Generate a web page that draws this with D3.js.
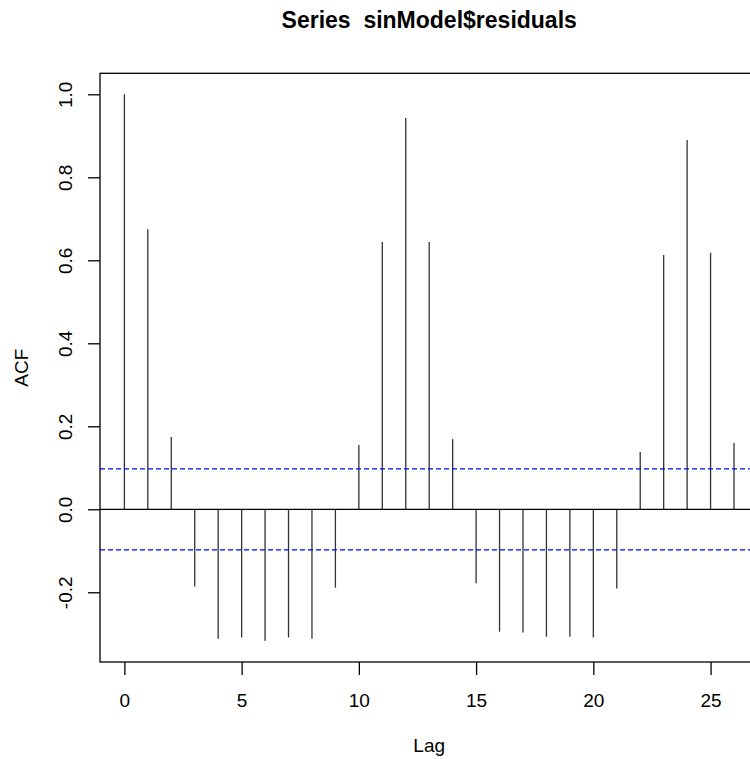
<!DOCTYPE html>
<html>
<head>
<meta charset="utf-8">
<script src="https://cdn.jsdelivr.net/npm/d3@7"></script>
<style>
  body { margin: 0; background: #fff; }
  svg { display: block; font-family: "Liberation Sans", Arial, sans-serif; }
</style>
</head>
<body>
<svg></svg>
<script>
// acf values, lag 0..26
let lags = d3.range(0, 27)
let acfValues = [1.0, 0.675, 0.174, -0.186, -0.312, -0.309, -0.317, -0.309, -0.312, -0.189,
                 0.155, 0.644, 0.943, 0.644, 0.169, -0.178, -0.295, -0.297, -0.307, -0.307,
                 -0.309, -0.191, 0.138, 0.613, 0.890, 0.618, 0.160]
let ciBound = 0.0976
let xTicks = [0, 5, 10, 15, 20, 25]
let yTicks = [-0.2, 0.0, 0.2, 0.4, 0.6, 0.8, 1.0]

let width = 750
let height = 759

let plotLeft = 100
let plotRight = 758.4
let plotTop = 73.3
let plotBottom = 662

let svg = d3.select('svg')
    .attr('width', width)
    .attr('height', height)

// R pads the axis range by 4% on each side
let xScale = d3.scaleLinear()
    .domain([-1.04, 27.04])
    .range([plotLeft, plotRight])

let yScale = d3.scaleLinear()
    .domain([-0.368, 1.0506])
    .range([plotBottom, plotTop])

// spikes
svg.selectAll('line.spike')
    .data(lags)
    .enter()
    .append('line')
    .attr('class', 'spike')
    .attr('x1', (d) => xScale(d))
    .attr('x2', (d) => xScale(d))
    .attr('y1', yScale(0))
    .attr('y2', (d) => yScale(acfValues[d]))
    .attr('stroke', '#333')
    .attr('stroke-width', 1.3)

// zero line
svg.append('line')
    .attr('x1', plotLeft)
    .attr('x2', plotRight)
    .attr('y1', yScale(0))
    .attr('y2', yScale(0))
    .attr('stroke', '#000')
    .attr('stroke-width', 1.3)

// confidence bounds
svg.selectAll('line.ci')
    .data([ciBound, -ciBound])
    .enter()
    .append('line')
    .attr('class', 'ci')
    .attr('x1', plotLeft)
    .attr('x2', plotRight)
    .attr('y1', (d) => yScale(d))
    .attr('y2', (d) => yScale(d))
    .attr('stroke', '#0000ff')
    .attr('stroke-width', 1.3)
    .attr('stroke-dasharray', '5,3')

// box
svg.append('rect')
    .attr('x', plotLeft)
    .attr('y', plotTop)
    .attr('width', plotRight - plotLeft)
    .attr('height', plotBottom - plotTop)
    .attr('fill', 'none')
    .attr('stroke', '#000')
    .attr('stroke-width', 1.3)

// x axis
let xAxis = d3.axisBottom(xScale)
    .tickValues(xTicks)
    .tickSize(13)
    .tickFormat(d3.format('d'))

let gx = svg.append('g')
    .attr('transform', 'translate(0, ' + plotBottom + ')')
    .call(xAxis)
gx.select('.domain').remove()
gx.selectAll('line').attr('stroke-width', 1.3)
gx.selectAll('text')
    .attr('y', 45)
    .attr('dy', 0)
    .attr('font-size', 19)
    .attr('font-family', '"Liberation Sans", Arial, sans-serif')
    .attr('fill', '#000')

// y axis - plain hyphen for negatives like R does
let yAxis = d3.axisLeft(yScale)
    .tickValues(yTicks)
    .tickSize(12)
    .tickFormat((d) => d.toFixed(1))

let gy = svg.append('g')
    .attr('transform', 'translate(' + plotLeft + ', 0)')
    .call(yAxis)
gy.select('.domain').remove()
gy.selectAll('line').attr('stroke-width', 1.3)
gy.selectAll('text')
    .attr('transform', 'rotate(-90)')
    .attr('x', 0)
    .attr('y', -28)
    .attr('dy', 0)
    .attr('text-anchor', 'middle')
    .attr('font-size', 19)
    .attr('font-family', '"Liberation Sans", Arial, sans-serif')
    .attr('fill', '#000')

// titles
svg.append('text')
    .attr('x', (plotLeft + plotRight) / 2)
    .attr('y', 28)
    .attr('text-anchor', 'middle')
    .attr('font-size', 23)
    .attr('font-weight', 'bold')
    .style('white-space', 'pre')
    .text('Series  sinModel$residuals')

svg.append('text')
    .attr('x', (plotLeft + plotRight) / 2)
    .attr('y', 752)
    .attr('text-anchor', 'middle')
    .attr('font-size', 19)
    .text('Lag')

svg.append('text')
    .attr('transform', 'translate(28, ' + (plotTop + plotBottom) / 2 + ') rotate(-90)')
    .attr('text-anchor', 'middle')
    .attr('font-size', 19)
    .text('ACF')
</script>
</body>
</html>
